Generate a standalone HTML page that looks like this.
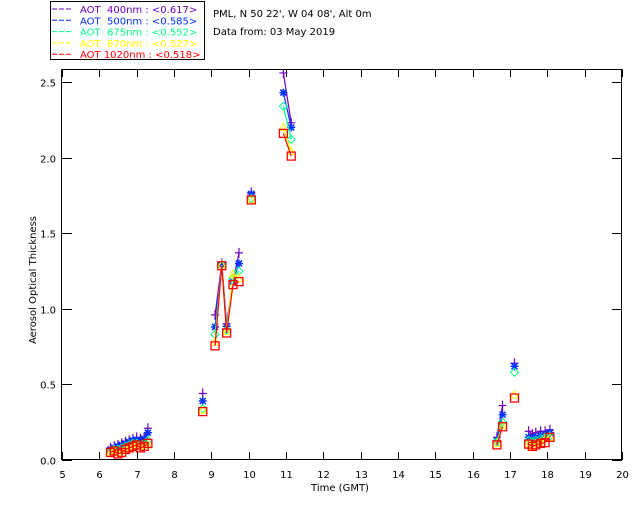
<!DOCTYPE html>
<html><head><meta charset="utf-8"><style>
body{margin:0;background:#fff}
svg text{font-family:"DejaVu Sans","Liberation Sans",sans-serif;font-size:10px}
</style></head><body>
<svg id="chart" width="640" height="512" xmlns="http://www.w3.org/2000/svg">
<rect x="50.5" y="1.5" width="154" height="58" fill="#fff" stroke="#000"/>
<g id="legend"></g>
<text x="213" y="17">PML, N 50 22', W 04 08', Alt 0m</text>
<text x="213" y="35">Data from: 03 May 2019</text>
<rect x="61.5" y="69.5" width="560" height="390" fill="none" stroke="#000"/>
<g id="axes"></g>
<g id="series"></g>
<text x="340" y="491" text-anchor="middle">Time (GMT)</text>
<text transform="translate(36,280) rotate(-90)" text-anchor="middle">Aerosol Optical Thickness</text>
</svg>
<script>
const times=[6.3,6.4,6.5,6.6,6.7,6.8,6.9,7.0,7.1,7.2,7.3, 8.77, 9.1,9.28,9.41,9.58,9.74, 10.07, 10.93,11.14, 16.65,16.8,17.12, 17.5,17.6,17.69,17.82,17.94,18.07];
const aot400=[0.08,0.09,0.1,0.11,0.12,0.13,0.14,0.15,0.14,0.15,0.21, 0.44, 0.96,1.3,0.9,1.18,1.37, 1.77, 2.56,2.23, 0.15,0.36,0.64, 0.19,0.17,0.18,0.19,0.19,0.2];
const aot500=[0.07,0.08,0.09,0.1,0.11,0.12,0.13,0.13,0.13,0.14,0.18, 0.39, 0.88,1.29,0.885,1.18,1.3, 1.76, 2.43,2.2, 0.13,0.3,0.62, 0.15,0.14,0.15,0.16,0.17,0.18];
const aot675=[0.06,0.07,0.07,0.08,0.09,0.1,0.11,0.11,0.1,0.11,0.13, 0.34, 0.83,1.29,0.86,1.2,1.25, 1.73, 2.34,2.12, 0.12,0.25,0.58, 0.13,0.12,0.13,0.14,0.15,0.16];
const aot870=[0.05,0.06,0.05,0.06,0.07,0.08,0.09,0.1,0.09,0.1,0.1, 0.33, 0.78,1.29,0.85,1.23,1.2, 1.72, 2.2,2.04, 0.11,0.23,0.43, 0.11,0.09,0.11,0.12,0.14,0.15];
const aot1020=[0.05,0.06,0.04,0.05,0.07,0.08,0.09,0.1,0.08,0.09,0.11, 0.32, 0.755,1.285,0.84,1.16,1.18, 1.72, 2.16,2.01, 0.1,0.22,0.41, 0.105,0.09,0.1,0.11,0.115,0.15];
const xTicks=[5,6,7,8,9,10,11,12,13,14,15,16,17,18,19,20];
const yTicks=[0.0,0.5,1.0,1.5,2.0,2.5];
const legendLabels=["AOT  400nm : <0.617>","AOT  500nm : <0.585>","AOT  675nm : <0.552>","AOT  870nm : <0.527>","AOT 1020nm : <0.518>"];
const NS="http://www.w3.org/2000/svg";
const X0=62,X1=622,Y0=460,YT=69;
function sx(v){return X0+(v-5)/15*(X1-X0);}
function sy(v){return Y0-v*151.2;}
function mk(tag,attrs,parent){const e=document.createElementNS(NS,tag);for(const k in attrs)e.setAttribute(k,attrs[k]);parent.appendChild(e);return e;}
const axes=document.getElementById('axes');
xTicks.forEach(t=>{
  const x=Math.round(sx(t))+0.5;
  const l1=mk('line',{x1:x,x2:x,y1:Y0,y2:Y0-8,stroke:'#000'},axes);
  
  
  const l2=mk('line',{x1:x,x2:x,y1:YT,y2:YT+8,stroke:'#000'},axes);
  
  
  const tx=mk('text',{x:x,y:478,'text-anchor':'middle'},axes);tx.textContent=t;
  
  
});
yTicks.forEach(t=>{
  const y=Math.round(sy(t))+0.5;
  const l1=mk('line',{x1:X0,x2:X0+10,y1:y,y2:y,stroke:'#000'},axes);
  
  
  const l2=mk('line',{x1:X1-10,x2:X1,y1:y,y2:y,stroke:'#000'},axes);
  
  
  const tx=mk('text',{x:56,y:y+4,'text-anchor':'end'},axes);tx.textContent=t.toFixed(1);
  
  
});
const seriesList=[[aot400,'#7000c0','plus'],[aot500,'#0030ff','star'],[aot675,'#00ff88','diamond'],[aot870,'#ffff00','triangle'],[aot1020,'#ff0000','square']];
const sg=document.getElementById('series');
const defs=mk('defs',{},sg);
mk('rect',{id:'clipr',x:X0,y:YT,width:X1-X0,height:Y0-YT},mk('clipPath',{id:'clip'},defs));
const names=['aot-400','aot-500','aot-675','aot-870','aot-1020'];
seriesList.forEach((s,i)=>{
  const [vals,col,shape]=s;
  const g=mk('g',{'clip-path':'url(#clip)'},sg);
  
  
  let d='';
  for(let k=0;k<times.length;k++){
    const brk=k===0||times[k]-times[k-1]>0.3;
    d+=(brk?'M':'L')+sx(times[k]).toFixed(1)+','+sy(vals[k]).toFixed(1);
  }
  const p=mk('path',{d:d,fill:'none',stroke:col,'stroke-width':1.2},g);
  
  
  for(let k=0;k<times.length;k++){
    const x=sx(times[k]),y=sy(vals[k]);let m;
    if(shape==='plus')m=mk('path',{d:`M${x-4},${y}H${x+4}M${x},${y-5}V${y+5}`,stroke:col,'stroke-width':1.2,fill:'none'},g);
    else if(shape==='star')m=mk('path',{d:`M${x-4},${y}H${x+4}M${x},${y-4}V${y+4}M${x-3},${y-3}L${x+3},${y+3}M${x-3},${y+3}L${x+3},${y-3}`,stroke:col,'stroke-width':1.5,fill:'none'},g);
    else if(shape==='diamond')m=mk('path',{d:`M${x},${y-4}L${x+4},${y}L${x},${y+4}L${x-4},${y}Z`,stroke:col,'stroke-width':1,fill:'none'},g);
    else if(shape==='triangle')m=mk('path',{d:`M${x},${y-4}L${x+4},${y+3}L${x-4},${y+3}Z`,stroke:col,'stroke-width':1,fill:'none'},g);
    else m=mk('rect',{x:x-4,y:y-4,width:8,height:8,stroke:col,'stroke-width':1.3,fill:'none'},g);
    
    
  }
});
const lg=document.getElementById('legend');
legendLabels.forEach((lab,i)=>{
  const col=seriesList[i][1];const y=12+i*11.3;
  const l=mk('line',{x1:52,x2:73,y1:y-3,y2:y-3,stroke:col,'stroke-dasharray':'5,2'},lg);
  
  
  const t=mk('text',{x:80,y:y+1,fill:col,'xml:space':'preserve'},lg);t.textContent=lab;
  t.style.whiteSpace='pre';
  
  
});
</script>
</body></html>
